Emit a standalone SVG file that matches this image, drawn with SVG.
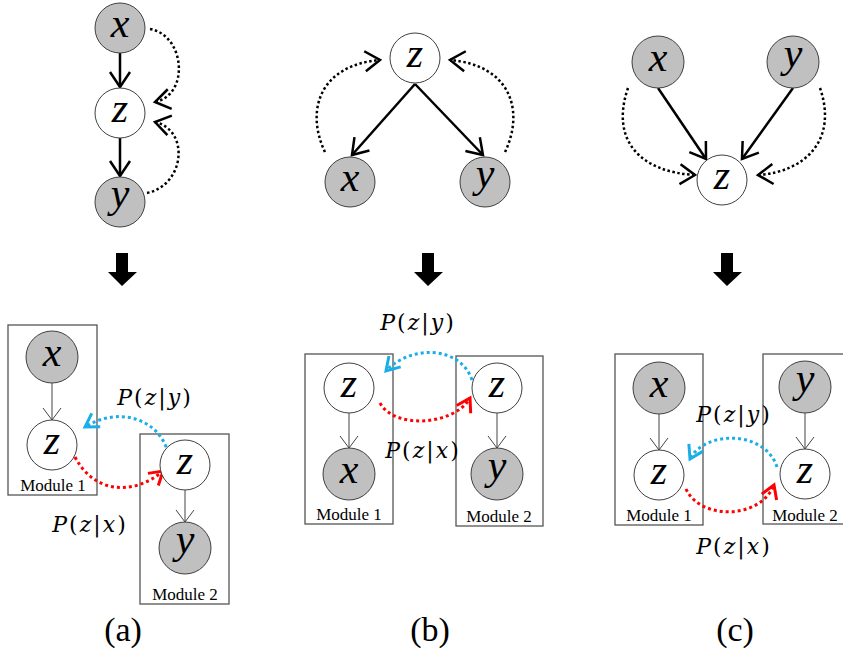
<svg xmlns="http://www.w3.org/2000/svg" width="843" height="659" viewBox="0 0 843 659">
<style>
.obs{fill:#c0c0c0;stroke:#404040;stroke-width:1}
.lat{fill:#ffffff;stroke:#404040;stroke-width:1}
.var{font-family:'Liberation Serif','Times New Roman','DejaVu Serif',serif;font-style:italic;font-size:42px;text-anchor:middle;fill:#000}
.solid{fill:none;stroke:#000;stroke-width:2.5}
.thin{fill:none;stroke:#444;stroke-width:1}
.dot{fill:none;stroke:#000;stroke-width:2.5;stroke-dasharray:2.5 2.5}
.dblue{fill:none;stroke:#1aaee8;stroke-width:3;stroke-dasharray:3 3}
.dred{fill:none;stroke:#ff0000;stroke-width:3;stroke-dasharray:3 3}
.box{fill:none;stroke:#555;stroke-width:1.3}
.mod{font-family:'Liberation Serif','Times New Roman','DejaVu Serif',serif;font-size:17px;text-anchor:middle;fill:#000}
.lbl{font-family:'DejaVu Serif','Liberation Serif',serif;font-size:22px;text-anchor:middle;fill:#000;letter-spacing:2px}
.it{font-style:italic}
.cap{font-family:'Liberation Serif','Times New Roman','DejaVu Serif',serif;font-size:34px;text-anchor:middle;fill:#000}
.big{fill:#000}
</style>
<defs>
<marker id="mThick" markerUnits="userSpaceOnUse" markerWidth="1" markerHeight="1" refX="0" refY="0" orient="auto" overflow="visible"><path d="M-15,-10 L0,0 L-15,10" fill="none" stroke="#000" stroke-width="2.5"/></marker>
<marker id="mThin" markerUnits="userSpaceOnUse" markerWidth="1" markerHeight="1" refX="0" refY="0" orient="auto" overflow="visible"><path d="M-12,-9 L0,0 L-12,9" fill="none" stroke="#444" stroke-width="1"/></marker>
<marker id="mBlue" markerUnits="userSpaceOnUse" markerWidth="1" markerHeight="1" refX="0" refY="0" orient="auto" overflow="visible"><path d="M-13,-8 L0,0 L-13,8" fill="none" stroke="#1aaee8" stroke-width="3"/></marker>
<marker id="mRed" markerUnits="userSpaceOnUse" markerWidth="1" markerHeight="1" refX="0" refY="0" orient="auto" overflow="visible"><path d="M-13,-8 L0,0 L-13,8" fill="none" stroke="#ff0000" stroke-width="3"/></marker>
</defs>

<g id="modules">
<rect class="box" x="8" y="325" width="89" height="170"/>
<text class="mod" font-family="Liberation Serif, serif" x="53" y="491">Module 1</text>
<rect class="box" x="140" y="434" width="89" height="170"/>
<text class="mod" font-family="Liberation Serif, serif" x="185" y="600">Module 2</text>
<rect class="box" x="305" y="354" width="88" height="170"/>
<text class="mod" font-family="Liberation Serif, serif" x="349" y="520">Module 1</text>
<rect class="box" x="456" y="356" width="87" height="170"/>
<text class="mod" font-family="Liberation Serif, serif" x="499" y="522">Module 2</text>
<rect class="box" x="615" y="354" width="88" height="171"/>
<text class="mod" font-family="Liberation Serif, serif" x="659" y="521">Module 1</text>
<rect class="box" x="763" y="354" width="100" height="170"/>
<text class="mod" font-family="Liberation Serif, serif" x="805" y="521">Module 2</text>
</g>

<g id="connectors">
<line class="solid" x1="120" y1="53" x2="120" y2="87" marker-end="url(#mThick)"/>
<line class="solid" x1="120" y1="138" x2="120" y2="176" marker-end="url(#mThick)"/>
<path class="dot" d="M150,29 C185,35 190,95 155,102" marker-end="url(#mThick)"/>
<path class="dot" d="M147,193 C185,185 190,130 155,122" marker-end="url(#mThick)"/>
<line class="solid" x1="415" y1="84" x2="352" y2="155" marker-end="url(#mThick)"/>
<line class="solid" x1="415" y1="84" x2="483" y2="155" marker-end="url(#mThick)"/>
<path class="dot" d="M325,152 C305,110 320,65 380,60" marker-end="url(#mThick)"/>
<path class="dot" d="M505,152 C525,110 510,65 450,60" marker-end="url(#mThick)"/>
<line class="solid" x1="658" y1="88" x2="706" y2="159" marker-end="url(#mThick)"/>
<line class="solid" x1="793" y1="88" x2="742" y2="159" marker-end="url(#mThick)"/>
<path class="dot" d="M628,88 C610,140 640,172 695,175" marker-end="url(#mThick)"/>
<path class="dot" d="M820,88 C838,140 805,172 758,175" marker-end="url(#mThick)"/>
<path class="big" d="M116,253 H128 V272 H137 L122,286 L108,272 H116 Z"/>
<path class="big" d="M422,253 H434 V272 H443 L428,286 L414,272 H422 Z"/>
<path class="big" d="M721,253 H733 V272 H742 L727,286 L713,272 H721 Z"/>
<line class="thin" x1="52" y1="383" x2="52" y2="420" marker-end="url(#mThin)"/>
<line class="thin" x1="185" y1="490" x2="185" y2="522" marker-end="url(#mThin)"/>
<path class="dblue" d="M168,453 C160,420 120,405 85,427" marker-end="url(#mBlue)"/>
<path class="dred" d="M75,457 C95,495 135,495 163,471" marker-end="url(#mRed)"/>
<line class="thin" x1="349" y1="413" x2="349" y2="448" marker-end="url(#mThin)"/>
<line class="thin" x1="497" y1="413" x2="497" y2="448" marker-end="url(#mThin)"/>
<path class="dblue" d="M472,380 C460,345 410,345 386,371" marker-end="url(#mBlue)"/>
<path class="dred" d="M380,403 C395,430 455,425 470,398" marker-end="url(#mRed)"/>
<line class="thin" x1="659" y1="414" x2="659" y2="450" marker-end="url(#mThin)"/>
<line class="thin" x1="805" y1="413" x2="805" y2="449" marker-end="url(#mThin)"/>
<path class="dblue" d="M777,467 C765,430 705,430 690,459" marker-end="url(#mBlue)"/>
<path class="dred" d="M686,489 C700,520 760,520 774,485" marker-end="url(#mRed)"/>
</g>

<g id="a-x"><circle class="obs" cx="120" cy="28" r="25"/><text class="var" x="120" y="37">x</text></g>
<g id="a-z"><circle class="lat" cx="120" cy="113" r="25"/><text class="var" x="120" y="122">z</text></g>
<g id="a-y"><circle class="obs" cx="120" cy="202" r="25"/><text class="var" x="120" y="207">y</text></g>
<g id="b-z"><circle class="lat" cx="415" cy="58" r="25"/><text class="var" x="415" y="67">z</text></g>
<g id="b-x"><circle class="obs" cx="350" cy="182" r="25"/><text class="var" x="350" y="191">x</text></g>
<g id="b-y"><circle class="obs" cx="485" cy="182" r="25"/><text class="var" x="485" y="187">y</text></g>
<g id="c-x"><circle class="obs" cx="658" cy="62" r="26"/><text class="var" x="658" y="71">x</text></g>
<g id="c-y"><circle class="obs" cx="793" cy="62" r="26"/><text class="var" x="793" y="67">y</text></g>
<g id="c-z"><circle class="lat" cx="722" cy="180" r="25"/><text class="var" x="722" y="189">z</text></g>

<g id="a1-x"><circle class="obs" cx="52" cy="357" r="26"/><text class="var" x="52" y="366">x</text></g>
<g id="a1-z"><circle class="lat" cx="52" cy="445" r="25"/><text class="var" x="52" y="454">z</text></g>
<g id="a2-z"><circle class="lat" cx="185" cy="465" r="25"/><text class="var" x="185" y="474">z</text></g>
<g id="a2-y"><circle class="obs" cx="185" cy="548" r="26"/><text class="var" x="185" y="553">y</text></g>
<g id="b1-z"><circle class="lat" cx="349" cy="388" r="25"/><text class="var" x="349" y="397">z</text></g>
<g id="b1-x"><circle class="obs" cx="349" cy="474" r="26"/><text class="var" x="349" y="483">x</text></g>
<g id="b2-z"><circle class="lat" cx="497" cy="388" r="25"/><text class="var" x="497" y="397">z</text></g>
<g id="b2-y"><circle class="obs" cx="497" cy="474" r="26"/><text class="var" x="497" y="479">y</text></g>
<g id="c1-x"><circle class="obs" cx="659" cy="388" r="26"/><text class="var" x="659" y="397">x</text></g>
<g id="c1-z"><circle class="lat" cx="659" cy="475" r="25"/><text class="var" x="659" y="484">z</text></g>
<g id="c2-y"><circle class="obs" cx="805" cy="387" r="26"/><text class="var" x="805" y="392">y</text></g>
<g id="c2-z"><circle class="lat" cx="805" cy="474" r="25"/><text class="var" x="805" y="483">z</text></g>

<g id="labels">
<text class="lbl" x="155" y="405"><tspan class="it">P</tspan>(<tspan class="it">z</tspan>|<tspan class="it">y</tspan>)</text>
<text class="lbl" x="90" y="532"><tspan class="it">P</tspan>(<tspan class="it">z</tspan>|<tspan class="it">x</tspan>)</text>
<text class="lbl" x="418" y="330"><tspan class="it">P</tspan>(<tspan class="it">z</tspan>|<tspan class="it">y</tspan>)</text>
<text class="lbl" x="423" y="458"><tspan class="it">P</tspan>(<tspan class="it">z</tspan>|<tspan class="it">x</tspan>)</text>
<text class="lbl" x="734" y="422"><tspan class="it">P</tspan>(<tspan class="it">z</tspan>|<tspan class="it">y</tspan>)</text>
<text class="lbl" x="734" y="554"><tspan class="it">P</tspan>(<tspan class="it">z</tspan>|<tspan class="it">x</tspan>)</text>
<text class="cap" x="123" y="641">(a)</text>
<text class="cap" x="430" y="641">(b)</text>
<text class="cap" x="735" y="641">(c)</text>
</g>
</svg>
